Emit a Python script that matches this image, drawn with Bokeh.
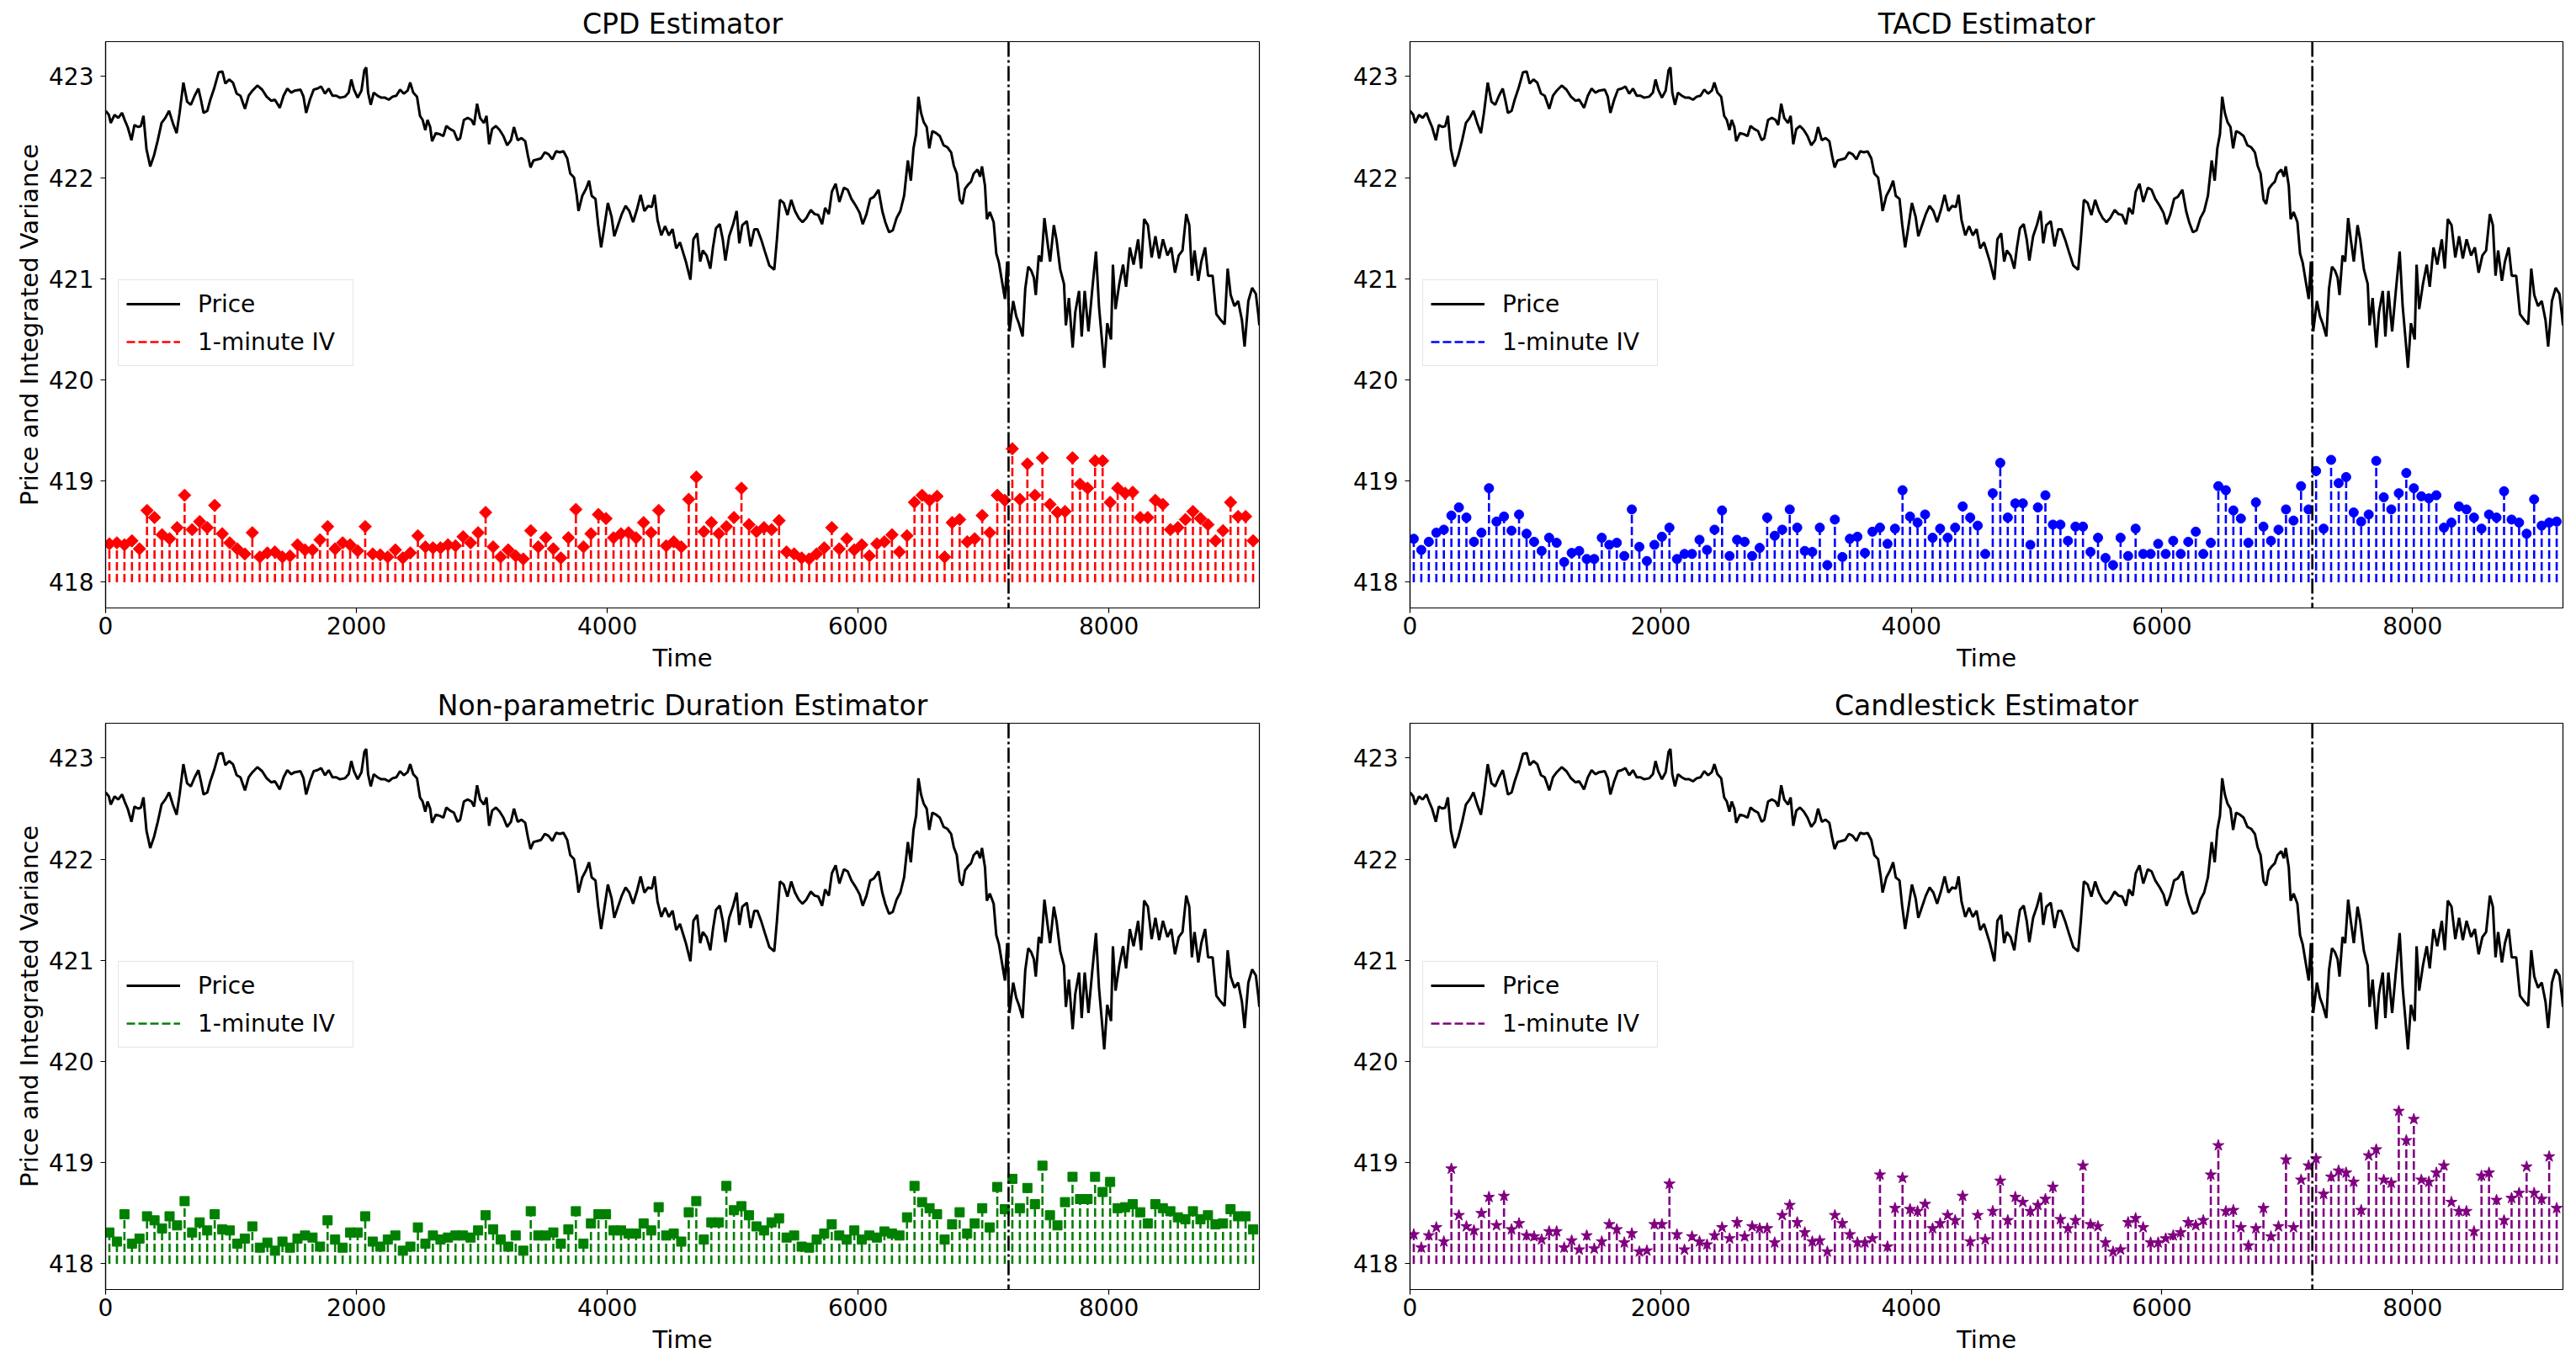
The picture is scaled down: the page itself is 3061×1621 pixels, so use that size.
import numpy as np
from bokeh.plotting import figure
from bokeh.layouts import gridplot
from bokeh.models import Span, Legend, LegendItem, FixedTicker, Range1d
from bokeh.embed import file_html
from bokeh.resources import INLINE

FONT = "DejaVu Sans"

# ---------------- data ----------------
price_time = [0, 26, 41, 71, 101, 131, 152, 176, 206, 230, 260, 281, 302, 326, 356, 386, 416, 446, 476, 506,
              536, 566, 590, 620, 650, 680, 710, 740, 760, 781, 811, 835, 865, 901, 931, 955, 985, 1015, 1045, 1075,
              1111, 1141, 1171, 1210, 1248, 1284, 1320, 1350, 1389, 1419, 1449, 1479, 1509, 1554, 1578, 1599, 1629,
              1659, 1689, 1719, 1749, 1779, 1809, 1839, 1869, 1908, 1938, 1959, 1980, 2010, 2040, 2063, 2078, 2093,
              2114, 2138, 2168, 2198, 2228, 2258, 2288, 2318, 2348, 2378, 2408, 2429, 2453, 2483, 2507, 2528, 2549,
              2567, 2588, 2603, 2633, 2663, 2693, 2717, 2747, 2777, 2806, 2827, 2857, 2887, 2917, 2938, 2962, 2986,
              3016, 3037, 3058, 3082, 3112, 3142, 3172, 3202, 3232, 3256, 3286, 3316, 3346, 3367, 3388, 3412, 3442,
              3472, 3502, 3532, 3562, 3592, 3622, 3651, 3681, 3705, 3735, 3756, 3771, 3801, 3831, 3855, 3876, 3906,
              3927, 3951, 3975, 4005, 4035, 4056, 4086, 4116, 4146, 4176, 4206, 4236, 4266, 4296, 4326, 4356, 4377,
              4401, 4431, 4461, 4491, 4521, 4550, 4580,
              4627, 4663, 4687, 4717, 4741, 4762, 4792, 4822, 4843, 4867, 4897, 4921, 4942, 4972, 5002, 5032, 5053,
              5077, 5113, 5143, 5173, 5197, 5227, 5257, 5293, 5332, 5353, 5377, 5407, 5437, 5467, 5497, 5527, 5557,
              5587, 5623, 5653, 5683, 5713, 5737, 5767, 5791, 5821, 5851, 5887, 5917, 5947, 5983, 6013, 6037, 6067,
              6097, 6127, 6163, 6193, 6217, 6247, 6277, 6307, 6337, 6367, 6397, 6421, 6442, 6463, 6481, 6502, 6523,
              6547, 6568, 6592, 6622, 6652, 6682, 6712, 6742, 6763, 6787, 6811, 6832, 6853, 6877, 6901, 6922, 6952,
              6973, 6988, 7012, 7027, 7051, 7081, 7102, 7123, 7147, 7171, 7189, 7207, 7237, 7261, 7282, 7312, 7333,
              7357, 7381, 7402, 7417, 7441, 7462, 7486, 7507, 7531, 7561, 7582, 7612, 7642, 7657, 7681, 7711, 7732,
              7762, 7783, 7807, 7837, 7867, 7897, 7921, 7942, 7963, 7987, 8017, 8032, 8053, 8083, 8113, 8137, 8167,
              8197, 8233, 8257, 8281, 8311, 8341, 8371, 8401, 8431, 8467, 8497, 8527, 8557, 8587, 8617, 8641, 8662,
              8683, 8713, 8737, 8767, 8791, 8827, 8857, 8887, 8923, 8947, 8971, 9001, 9031, 9061, 9082, 9112, 9142,
              9172, 9193, 9200]

price_value = [422.66, 422.62, 422.54, 422.62, 422.59, 422.64, 422.57, 422.50, 422.37, 422.52, 422.50, 422.51,
               422.61, 422.28, 422.11, 422.22, 422.37, 422.54, 422.59, 422.66, 422.54, 422.44, 422.64, 422.94,
               422.75, 422.72, 422.81, 422.88, 422.77, 422.64, 422.66, 422.77, 422.88, 423.04, 423.05, 422.93,
               422.97, 422.94, 422.83, 422.81, 422.68, 422.81, 422.86, 422.91, 422.87, 422.80, 422.76, 422.77,
               422.69, 422.81, 422.88, 422.84, 422.86, 422.87, 422.80, 422.64, 422.77, 422.87, 422.88, 422.90,
               422.83, 422.88, 422.81, 422.81, 422.79, 422.80, 422.84, 422.97, 422.87, 422.79, 422.86, 423.06,
               423.09, 422.84, 422.72, 422.84, 422.81, 422.79, 422.79, 422.77, 422.80, 422.81, 422.87, 422.83,
               422.86, 422.94, 422.84, 422.80, 422.61, 422.57, 422.47, 422.57, 422.50, 422.36, 422.44, 422.43,
               422.41, 422.51, 422.48, 422.46, 422.37, 422.39, 422.57, 422.59, 422.57, 422.52, 422.73, 422.59,
               422.54, 422.61, 422.33, 422.48, 422.51, 422.47, 422.41, 422.32, 422.37, 422.50, 422.37, 422.39,
               422.36, 422.22, 422.10, 422.17, 422.18, 422.19, 422.25, 422.23, 422.18, 422.26, 422.25, 422.26,
               422.19, 422.04, 422.00, 421.83, 421.67, 421.82, 421.89, 421.97, 421.82, 421.79, 421.54, 421.31,
               421.50, 421.75, 421.61, 421.42, 421.53, 421.64, 421.72, 421.67, 421.56, 421.68, 421.83, 421.67,
               421.72, 421.71, 421.83, 421.58, 421.43, 421.52, 421.43, 421.49, 421.30, 421.36,
               421.17, 420.99, 421.39, 421.45, 421.17, 421.28, 421.23, 421.10, 421.31, 421.50, 421.54, 421.39,
               421.18, 421.42, 421.53, 421.67, 421.35, 421.53, 421.57, 421.32, 421.49, 421.49, 421.39, 421.27,
               421.13, 421.09, 421.39, 421.78, 421.75, 421.63, 421.78, 421.67, 421.60, 421.56, 421.60, 421.68,
               421.64, 421.63, 421.54, 421.70, 421.64, 421.86, 421.94, 421.76, 421.90, 421.88, 421.79, 421.72,
               421.65, 421.54, 421.64, 421.79, 421.81, 421.88, 421.67, 421.56, 421.46, 421.48, 421.60, 421.67,
               421.82, 422.17, 421.97, 422.29, 422.43, 422.80, 422.64, 422.55, 422.50, 422.29, 422.46, 422.44,
               422.41, 422.32, 422.30, 422.25, 422.12, 422.04, 421.78, 421.74, 421.89, 421.93, 421.96, 422.04,
               422.08, 422.01, 422.11, 421.92, 421.59, 421.66, 421.56, 421.25, 421.16, 420.98, 420.80, 421.17,
               420.48, 420.78, 420.63, 420.56, 420.43, 420.90, 421.12, 421.08, 421.01, 420.84, 421.23, 421.17,
               421.60, 421.39, 421.17, 421.53, 421.39, 421.09, 420.95, 420.54, 420.81, 420.32, 420.67, 420.88,
               420.43, 420.88, 420.48, 420.89, 421.27, 420.73, 420.43, 420.12, 420.56, 420.40, 421.14, 420.70,
               420.95, 421.14, 420.92, 421.31, 421.14, 421.39, 421.10, 421.59, 421.53, 421.21, 421.42, 421.20,
               421.39, 421.23, 421.31, 421.06, 421.23, 421.28, 421.64, 421.53, 421.03, 421.28, 420.98, 421.17,
               421.31, 421.03, 421.03, 420.65, 420.60, 420.55, 421.10, 420.84, 420.73, 420.78, 420.59, 420.33,
               420.78, 420.91, 420.85, 420.63, 420.54]

# one IV value per minute, drawn at the middle of each minute (seconds)
minute_index = list(range(153))
iv_time = [30 + 60 * m for m in minute_index]

cpd_iv = [418.38, 418.39, 418.37, 418.41, 418.33, 418.71, 418.64, 418.47, 418.43, 418.54,
          418.86, 418.52, 418.60, 418.54, 418.76, 418.48, 418.39, 418.33, 418.28, 418.49,
          418.25, 418.29, 418.30, 418.25, 418.26, 418.37, 418.32, 418.32, 418.42, 418.55,
          418.33, 418.39, 418.37, 418.31, 418.55, 418.28, 418.27, 418.25, 418.32, 418.24,
          418.29, 418.46, 418.35, 418.34, 418.34, 418.37, 418.36, 418.45, 418.39, 418.49,
          418.69, 418.35, 418.25, 418.32, 418.26, 418.23, 418.51, 418.35, 418.44, 418.33,
          418.24, 418.44, 418.72, 418.35, 418.48, 418.67, 418.63, 418.44, 418.48, 418.49,
          418.44, 418.59, 418.49, 418.71, 418.36, 418.40, 418.35, 418.82,
          419.04, 418.50, 418.59, 418.48, 418.55, 418.64, 418.93, 418.57, 418.50, 418.54,
          418.52, 418.61, 418.30, 418.28, 418.24, 418.23, 418.28, 418.34, 418.54, 418.33,
          418.43, 418.32, 418.37, 418.26, 418.38, 418.40, 418.47, 418.30, 418.46, 418.79,
          418.86, 418.81, 418.85, 418.25, 418.59, 418.62, 418.40, 418.43, 418.66, 418.49,
          418.86, 418.81, 419.32, 418.82, 419.17, 418.86, 419.23, 418.77, 418.69, 418.70,
          419.23, 418.97, 418.93, 419.20, 419.20, 418.79, 418.93, 418.88, 418.89, 418.64,
          418.64, 418.81, 418.77, 418.52, 418.54, 418.62, 418.70, 418.63, 418.57, 418.41,
          418.51, 418.79, 418.65, 418.65, 418.41]

tacd_iv = [418.43, 418.32, 418.40, 418.49, 418.52, 418.66, 418.74, 418.64, 418.40, 418.49,
           418.93, 418.60, 418.65, 418.51, 418.67, 418.48, 418.40, 418.31, 418.44, 418.39,
           418.20, 418.29, 418.31, 418.23, 418.23, 418.44, 418.37, 418.39, 418.26, 418.72,
           418.35, 418.21, 418.37, 418.45, 418.54, 418.23, 418.28, 418.28, 418.42, 418.32,
           418.52, 418.71, 418.26, 418.42, 418.40, 418.26, 418.34, 418.64, 418.46, 418.52,
           418.72, 418.54, 418.31, 418.30, 418.54, 418.17, 418.62, 418.25, 418.43, 418.45,
           418.29, 418.50, 418.54, 418.38, 418.53, 418.91, 418.65, 418.59, 418.67, 418.44,
           418.53, 418.44, 418.54, 418.75, 418.64, 418.56, 418.28, 418.88,
           419.18, 418.64, 418.78, 418.78, 418.37, 418.74, 418.86, 418.57, 418.57, 418.41,
           418.55, 418.55, 418.30, 418.44, 418.24, 418.17, 418.44, 418.26, 418.53, 418.28,
           418.28, 418.38, 418.28, 418.41, 418.28, 418.40, 418.50, 418.28, 418.39, 418.95,
           418.91, 418.71, 418.63, 418.39, 418.79, 418.55, 418.41, 418.52, 418.72, 418.61,
           418.95, 418.72, 419.10, 418.53, 419.21, 418.98, 419.04, 418.69, 418.60, 418.67,
           419.20, 418.84, 418.72, 418.88, 419.08, 418.93, 418.85, 418.83, 418.86, 418.54,
           418.59, 418.75, 418.72, 418.64, 418.53, 418.67, 418.64, 418.90, 418.62, 418.59,
           418.48, 418.82, 418.56, 418.59, 418.60]

np_iv = [418.31, 418.22, 418.49, 418.20, 418.25, 418.47, 418.43, 418.35, 418.47, 418.38,
         418.62, 418.31, 418.41, 418.33, 418.49, 418.34, 418.33, 418.20, 418.25, 418.37,
         418.16, 418.21, 418.13, 418.22, 418.16, 418.25, 418.28, 418.26, 418.17, 418.43,
         418.24, 418.16, 418.31, 418.31, 418.47, 418.22, 418.17, 418.24, 418.28, 418.13,
         418.17, 418.36, 418.20, 418.28, 418.24, 418.26, 418.28, 418.28, 418.26, 418.33,
         418.48, 418.34, 418.24, 418.17, 418.28, 418.13, 418.52, 418.28, 418.28, 418.31,
         418.20, 418.34, 418.52, 418.20, 418.40, 418.49, 418.49, 418.33, 418.33, 418.30,
         418.30, 418.40, 418.33, 418.56, 418.28, 418.30, 418.22, 418.51,
         418.62, 418.24, 418.41, 418.41, 418.77, 418.53, 418.57, 418.48, 418.37, 418.33,
         418.41, 418.45, 418.26, 418.28, 418.17, 418.16, 418.24, 418.30, 418.39, 418.28,
         418.24, 418.33, 418.24, 418.28, 418.26, 418.32, 418.30, 418.28, 418.46, 418.77,
         418.61, 418.55, 418.49, 418.24, 418.39, 418.51, 418.30, 418.40, 418.55, 418.36,
         418.76, 418.54, 418.84, 418.55, 418.75, 418.59, 418.97, 418.48, 418.38, 418.61,
         418.86, 418.64, 418.64, 418.86, 418.71, 418.81, 418.55, 418.56, 418.59, 418.51,
         418.40, 418.59, 418.55, 418.52, 418.46, 418.44, 418.52, 418.44, 418.48, 418.39,
         418.40, 418.54, 418.47, 418.47, 418.34]

candle_iv = [418.29, 418.16, 418.28, 418.36, 418.22, 418.94, 418.48, 418.37, 418.33, 418.50,
             418.66, 418.38, 418.67, 418.34, 418.40, 418.28, 418.27, 418.24, 418.32, 418.32,
             418.16, 418.23, 418.14, 418.28, 418.15, 418.22, 418.39, 418.34, 418.21, 418.30,
             418.12, 418.13, 418.39, 418.39, 418.79, 418.29, 418.14, 418.27, 418.22, 418.19,
             418.28, 418.36, 418.25, 418.41, 418.27, 418.37, 418.35, 418.35, 418.21, 418.48,
             418.58, 418.41, 418.31, 418.22, 418.23, 418.12, 418.48, 418.40, 418.29, 418.21,
             418.21, 418.25, 418.88, 418.17, 418.55, 418.85, 418.54, 418.52, 418.59, 418.35,
             418.40, 418.48, 418.43, 418.67, 418.22, 418.48, 418.24, 418.52,
             418.82, 418.43, 418.66, 418.61, 418.52, 418.58, 418.64, 418.76, 418.44, 418.35,
             418.43, 418.97, 418.39, 418.37, 418.21, 418.12, 418.14, 418.41, 418.45, 418.36,
             418.21, 418.21, 418.25, 418.28, 418.31, 418.41, 418.38, 418.43, 418.88, 419.17,
             418.52, 418.53, 418.36, 418.18, 418.35, 418.55, 418.27, 418.37, 419.03, 418.36,
             418.83, 418.97, 419.04, 418.69, 418.86, 418.92, 418.90, 418.81, 418.53, 419.07,
             419.13, 418.83, 418.80, 419.51, 419.22, 419.43, 418.83, 418.81, 418.90, 418.97,
             418.61, 418.52, 418.52, 418.32, 418.87, 418.90, 418.63, 418.43, 418.65, 418.70,
             418.96, 418.70, 418.64, 419.06, 418.55]

titles = ["CPD Estimator", "TACD Estimator",
          "Non-parametric Duration Estimator", "Candlestick Estimator"]
series = [cpd_iv, tacd_iv, np_iv, candle_iv]
colors = ["red", "blue", "green", "purple"]
x_ticks = [0, 2000, 4000, 6000, 8000]
y_ticks = [418, 419, 420, 421, 422, 423]
change_point = 7200
iv_baseline = 418
x_limits = (0, 9200)
y_limits = (417.746, 423.344)

# marker styling per estimator
marker_style = [
    dict(marker="square", angle=np.pi / 4, size=10.5),
    dict(marker="circle", size=11),
    dict(marker="square", size=11),
    dict(marker="star", size=14),
]

col_geom = [dict(width=1545, min_border_left=125, min_border_right=49),
            dict(width=1514, min_border_left=130, min_border_right=14)]
row_geom = [dict(height=802, min_border_top=49, min_border_bottom=80),
            dict(height=817, min_border_top=57, min_border_bottom=87)]


def make_panel(i):
    row, col = divmod(i, 2)
    p = figure(output_backend="svg", toolbar_location=None,
               x_range=Range1d(*x_limits), y_range=Range1d(*y_limits),
               **col_geom[col], **row_geom[row])
    p.background_fill_color = "white"
    p.border_fill_color = "white"
    p.outline_line_color = "black"
    p.outline_line_width = 1.2
    p.outline_line_alpha = 1.0
    p.xgrid.visible = False
    p.ygrid.visible = False

    p.title.text = titles[i]
    p.title.align = "center"
    p.title.text_font = FONT
    p.title.text_font_size = "33px"
    p.title.text_font_style = "normal"
    p.title.text_color = "black"
    p.title.standoff = 3

    p.xaxis.ticker = FixedTicker(ticks=x_ticks)
    p.yaxis.ticker = FixedTicker(ticks=y_ticks)
    for ax in (p.xaxis[0], p.yaxis[0]):
        ax.major_label_text_font = FONT
        ax.major_label_text_font_size = "28px"
        ax.major_label_text_color = "black"
        ax.major_tick_out = 6
        ax.major_tick_in = 0
        ax.minor_tick_out = 0
        ax.minor_tick_in = 0
        ax.major_tick_line_color = "black"
        ax.major_tick_line_width = 1.2
        ax.axis_line_color = "black"
        ax.axis_line_width = 1.2
        ax.axis_label_text_font = FONT
        ax.axis_label_text_font_style = "normal"
        ax.axis_label_text_color = "black"
    p.xaxis.major_label_standoff = 4
    p.yaxis.major_label_standoff = 8
    p.xaxis.axis_label = "Time"
    p.xaxis.axis_label_text_font_size = "29px"
    p.xaxis.axis_label_standoff = 8
    if col == 0:
        p.yaxis.axis_label = "Price and Integrated Variance"
        p.yaxis.axis_label_text_font_size = "29px"
        p.yaxis.axis_label_standoff = 3

    price_r = p.line(price_time, price_value, line_color="black", line_width=3)
    iv = series[i]
    stem_r = p.segment(x0=iv_time, y0=[iv_baseline] * len(iv), x1=iv_time, y1=iv,
                       line_color=colors[i], line_width=2.6, line_dash="10 4")
    p.scatter(iv_time, iv, fill_color=colors[i], line_color=colors[i], **marker_style[i])

    p.add_layout(Span(location=change_point, dimension="height", line_color="black",
                      line_width=2.6, line_dash="18 4 3 4"))

    legend = Legend(items=[LegendItem(label="Price", renderers=[price_r]),
                           LegendItem(label="1-minute IV", renderers=[stem_r])],
                    location=(15, 287), margin=0)
    legend.label_text_font = FONT
    legend.label_text_font_size = "28px"
    legend.label_text_color = "black"
    legend.glyph_width = 64
    legend.glyph_height = 38
    legend.label_height = 38
    legend.label_width = 175
    legend.label_standoff = 21
    legend.padding = 9
    legend.spacing = 7
    legend.border_line_color = "#cccccc"
    legend.border_line_width = 1.2
    legend.background_fill_color = "white"
    legend.background_fill_alpha = 0.8
    p.add_layout(legend)
    return p


panels = [make_panel(i) for i in range(4)]
grid = gridplot([[panels[0], panels[1]], [panels[2], panels[3]]], toolbar_location=None)

open("out.html", "w").write(file_html(grid, INLINE))
